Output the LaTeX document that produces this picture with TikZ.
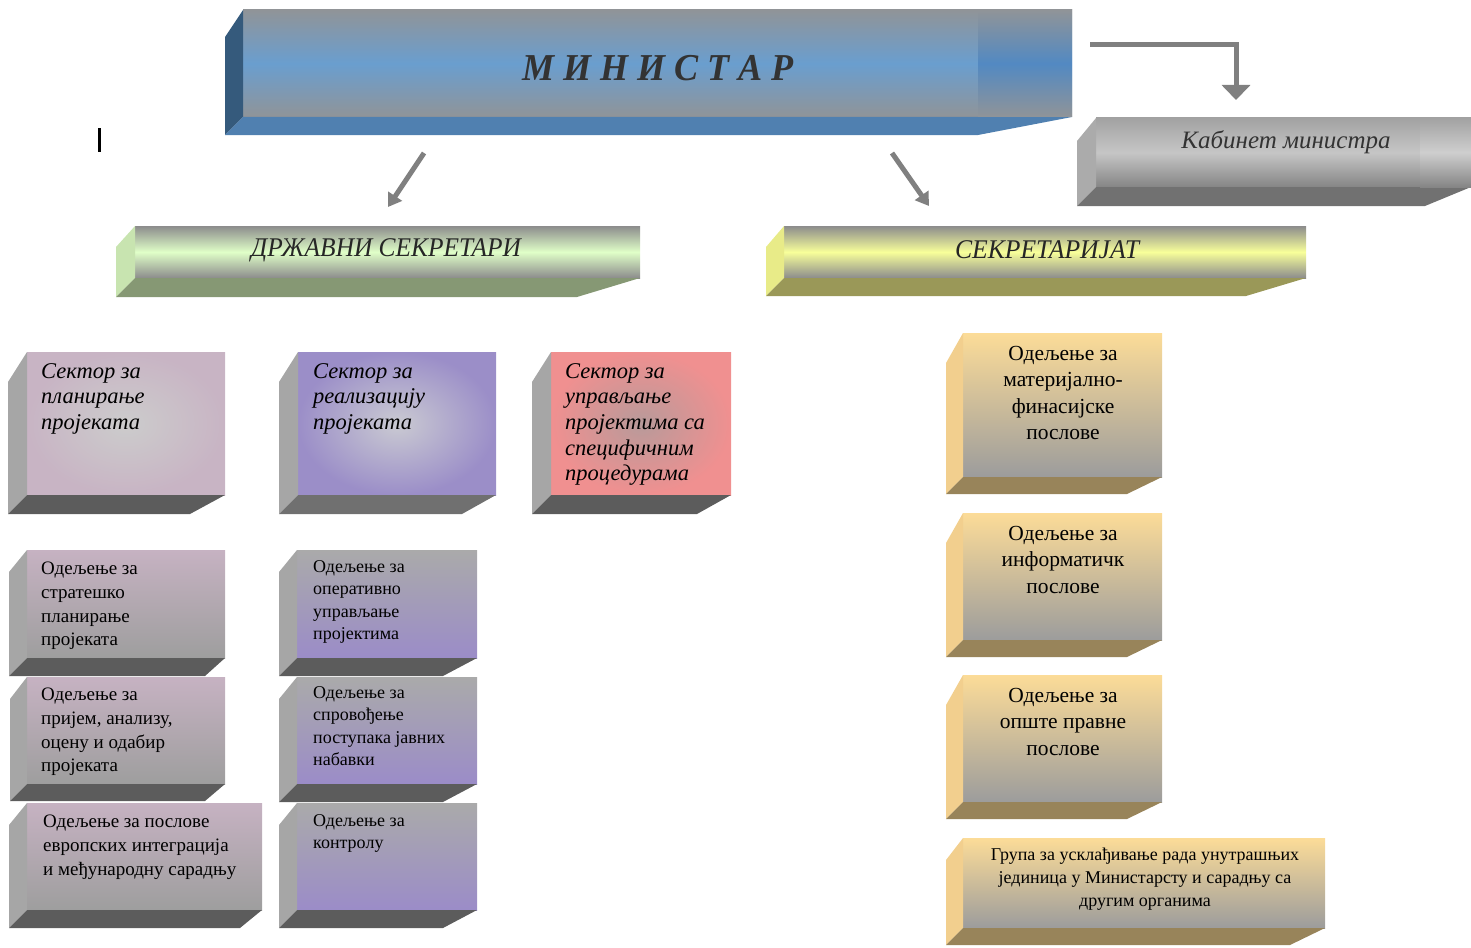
\documentclass[tikz,border=0pt]{standalone}
\usepackage{fontspec}
\setmainfont{Liberation Serif}
\usetikzlibrary{calc,arrows.meta}
\definecolor{mgray}{HTML}{909498}
\definecolor{mblue}{HTML}{6A9ECF}
\definecolor{mblue2}{HTML}{5289C2}
\definecolor{mside}{HTML}{355A7C}
\definecolor{mbot}{HTML}{5080B0}
\definecolor{kgray1}{HTML}{A2A2A2}
\definecolor{kgray2}{HTML}{C6C6C6}
\definecolor{kgray3}{HTML}{858585}
\definecolor{kside}{HTML}{ABABAB}
\definecolor{kbot}{HTML}{717171}
\definecolor{sgray}{HTML}{8C8C8C}
\definecolor{dgreen}{HTML}{E0FFC8}
\definecolor{dside}{HTML}{C8E4B0}
\definecolor{dbot}{HTML}{869874}
\definecolor{syel}{HTML}{F8FF9A}
\definecolor{yside}{HTML}{E8EB88}
\definecolor{ybot}{HTML}{9A9858}
\definecolor{pinkout}{HTML}{C8B4C4}
\definecolor{pinkin}{HTML}{CCCCCC}
\definecolor{purout}{HTML}{9B8EC8}
\definecolor{purin}{HTML}{CACAD2}
\definecolor{redout}{HTML}{F09090}
\definecolor{redin}{HTML}{B89A9A}
\definecolor{gside}{HTML}{A6A6A6}
\definecolor{gbot}{HTML}{5C5C5C}
\definecolor{gbot2}{HTML}{707070}
\definecolor{deppink}{HTML}{C6B2C2}
\definecolor{depgray}{HTML}{9E9E9E}
\definecolor{deptop}{HTML}{AAAAAA}
\definecolor{deppur}{HTML}{9B8CC8}
\definecolor{orgtop}{HTML}{FCDC98}
\definecolor{orgbot}{HTML}{9C9C9C}
\definecolor{oside}{HTML}{F2CF8E}
\definecolor{obot}{HTML}{98845A}
\definecolor{arrgray}{HTML}{808080}

\newcommand{\tdbox}[6]{%
  \pgfmathsetmacro{\tdW}{#4-#2}%
  \pgfmathsetmacro{\tdH}{#5-#3}%
  \node[boxbase,#6,minimum width=\tdW pt,minimum height=\tdH pt,anchor=north west] (#1) at (#2,#3) {};}
\newcommand{\tdfaces}[6]{%
  \fill[#5] (#1.north west) -- ++(-#2,#3) -- ($(#1.south west)+(-#2,#2)$) -- (#1.south west) -- cycle;
  \fill[#6] (#1.south west) -- (#1.south east) -- ++(-#4,#2) -- ($(#1.south west)+(-#2,#2)$) -- cycle;}

\tikzset{
  boxbase/.style={inner sep=0pt, outer sep=0pt, draw=none},
  minfront/.style={top color=mgray, bottom color=mgray, middle color=mblue},
  kabfront/.style={top color=kgray1, bottom color=kgray3, middle color=kgray2},
  drzfront/.style={top color=sgray, bottom color=sgray, middle color=dgreen},
  sekfront/.style={top color=sgray, bottom color=sgray, middle color=syel},
  s1front/.style={inner color=pinkin, outer color=pinkout},
  s2front/.style={inner color=purin, outer color=purout},
  s3front/.style={inner color=redin, outer color=redout},
  ldep/.style={top color=deppink, bottom color=depgray},
  mdep/.style={top color=deptop, bottom color=deppur},
  rdep/.style={top color=orgtop, bottom color=orgbot},
  sectxt/.style={inner sep=0pt, anchor=north west, align=left, font=\fontsize{22.5}{25.7}\selectfont\itshape},
  ltxt/.style={inner sep=0pt, anchor=north west, align=left, font=\fontsize{19}{23.7}\selectfont},
  mtxt/.style={inner sep=0pt, anchor=north west, align=left, font=\fontsize{18}{22.5}\selectfont},
  rtxt/.style={inner sep=0pt, anchor=north, align=center, font=\fontsize{21.5}{26.5}\selectfont},
  arr/.style={draw=arrgray, line width=5pt, -{Triangle[width=16pt,length=13pt]}},
}

\begin{document}
\begin{tikzpicture}[x=1pt,y=-1pt]
\useasboundingbox (0,0) rectangle (1471,947);
\clip (0,0) rectangle (1471,947);

% ---- top level
\tdbox{min}{243}{10}{1072}{117}{minfront}
\tdfaces{min}{18}{27}{94}{mside}{mbot}
\shade[top color=mgray, bottom color=mgray, middle color=mblue2] (978,10) rectangle (1072,117);
\node[font=\fontsize{38}{40}\selectfont\bfseries\itshape, text=black!80] (mint) at (658,68) {\scalebox{0.95}[1]{М И Н И С Т А Р}};

\tdbox{kab}{1096}{118}{1471}{187}{kabfront}
\tdfaces{kab}{19}{23}{46}{kside}{kbot}
\shade[top color=kgray1, bottom color=kgray3, middle color=kgray2!85!white] (1420,118) rectangle (1471,187);
\node[font=\fontsize{25}{27}\selectfont\itshape, text=black!80] (kabt) at (1286,142) {\scalebox{1.0}[1]{Кабинет министра}};

\tdbox{drz}{135}{226}{640}{278}{drzfront}
\tdfaces{drz}{19}{21}{63}{dside}{dbot}
\node[font=\fontsize{27}{29}\selectfont\itshape, text=black!85] (drzt) at (386,250) {\scalebox{0.94}[1]{ДРЖАВНИ СЕКРЕТАРИ}};

\tdbox{sek}{784}{226}{1306}{278}{sekfront}
\tdfaces{sek}{18}{21}{60}{yside}{ybot}
\node[font=\fontsize{27}{29}\selectfont\itshape, text=black!85] (sekt) at (1047,250) {\scalebox{0.95}[1]{СЕКРЕТАРИЈАТ}};

% ---- arrows
\coordinate (a1s) at (424,153);
\coordinate (a1e) at (388,207);
\coordinate (a2s) at (892,153);
\coordinate (a2e) at (929,206);
\coordinate (a3s) at (1090,45);
\coordinate (a3e) at (1236,100);
\draw[arr] (a1s) -- (a1e);
\draw[arr] (a2s) -- (a2e);
\draw[draw=arrgray, line width=5pt, -{Triangle[width=28pt,length=15pt]}] (a3s) -| (a3e);

% cursor mark
\coordinate (cur1) at (99.5,128);
\coordinate (cur2) at (99.5,152);
\draw[line width=3pt] (cur1) -- (cur2);

% ---- sectors
\tdbox{s1}{27}{352}{225}{495}{s1front}
\tdfaces{s1}{19}{30}{35}{gside}{gbot}
\node[sectxt] (s1t) at (41,363) {Сектор за\\планирање\\пројеката};

\tdbox{s2}{298}{352}{496}{495}{s2front}
\tdfaces{s2}{19}{30}{34}{gside}{gbot2}
\node[sectxt] (s2t) at (313,363) {Сектор за\\реализацију\\пројеката};

\tdbox{s3}{551}{352}{731}{495}{s3front}
\tdfaces{s3}{19}{30}{34}{gside}{gbot}
\node[sectxt] (s3t) at (565,363) {Сектор за\\управљање\\пројектима са\\специфичним\\процедурама};

% ---- left departments
\tdbox{la}{27}{550}{225}{658}{ldep}
\tdfaces{la}{18}{22}{20}{gside}{gbot}
\node[ltxt] (lat) at (41,562) {Одељење за\\стратешко\\планирање\\пројеката};

\tdbox{lb}{27}{677}{225}{784}{ldep}
\tdfaces{lb}{17}{22}{20}{gside}{gbot}
\node[ltxt] (lbt) at (41,688) {Одељење за\\пријем, анализу,\\оцену и одабир\\пројеката};

\tdbox{lc}{27}{803}{262}{910}{ldep}
\tdfaces{lc}{18}{22}{22}{gside}{gbot}
\node[ltxt] (lct) at (43,815) {Одељење за послове\\европских интеграција\\и међународну сарадњу};

% ---- middle departments
\tdbox{md}{297}{550}{477}{658}{mdep}
\tdfaces{md}{18}{22}{34}{gside}{gbot}
\node[mtxt] (mdt) at (313,560) {Одељење за\\оперативно\\управљање\\пројектима};

\tdbox{me}{297}{677}{477}{784}{mdep}
\tdfaces{me}{18}{22}{34}{gside}{gbot}
\node[mtxt] (met) at (313,686) {Одељење за\\спровођење\\поступака јавних\\набавки};

\tdbox{mf}{297}{803}{477}{910}{mdep}
\tdfaces{mf}{18}{22}{34}{gside}{gbot}
\node[mtxt] (mft) at (313,814) {Одељење за\\контролу};

% ---- right (secretariat) departments
\tdbox{rg}{963}{333}{1162}{477}{rdep}
\tdfaces{rg}{17}{30}{35}{oside}{obot}
\node[rtxt] (rgt) at (1063,346) {Одељење за\\материјално-\\финасијске\\послове};

\tdbox{rh}{963}{513}{1162}{640}{rdep}
\tdfaces{rh}{17}{30}{35}{oside}{obot}
\node[rtxt] (rht) at (1063,526) {Одељење за\\информатичк\\послове};

\tdbox{ri}{963}{675}{1162}{802}{rdep}
\tdfaces{ri}{17}{30}{35}{oside}{obot}
\node[rtxt] (rit) at (1063,688) {Одељење за\\опште правне\\послове};

\tdbox{rj}{963}{838}{1325}{928}{rdep}
\tdfaces{rj}{17}{22}{35}{oside}{obot}
\node[inner sep=0pt, anchor=north, align=center, font=\fontsize{18}{23}\selectfont] (rjt) at (1145,848) {Група за усклађивање рада унутрашњих\\јединица у Министарсту и сарадњу са\\другим органима};
\end{tikzpicture}
\end{document}
